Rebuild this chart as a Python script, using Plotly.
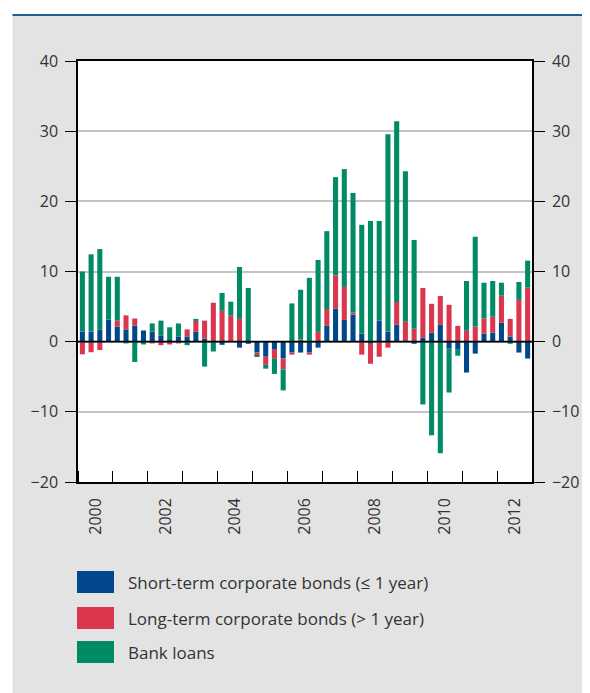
import plotly.graph_objects as go

# Quarterly flows, 2000 Q1 - 2012 Q4
years = list(range(2000, 2013))
quarters = [f"{y}Q{q}" for y in years for q in range(1, 5)]

short_term = [
    1.45, 1.45, 1.75, 3.15, 2.15, 1.75, 2.3, 1.6, 1.45, 0.9, 0.35, 0.75,
    0.75, 1.4, 0.45, 0.0, -0.45, 0.0, -0.85, -0.3, -1.55, -2.15, -1.15, -2.4,
    -1.55, -1.55, -1.55, -0.85, 2.25, 4.7, 3.1, 3.85, 1.15, -0.3, 3.0, 1.4,
    2.4, 0.0, -0.3, 0.55, 1.3, 2.4, -1.0, -1.15, -4.4, -1.7, 1.15, 1.3,
    2.7, 0.7, -1.55, -2.4,
]
long_term = [
    -1.8, -1.5, -1.2, 0.0, 0.85, 2.0, 1.0, 0.0, -0.25, -0.5, -0.4, -0.25,
    1.0, 1.55, 2.55, 5.55, 4.4, 3.7, 3.25, 0.15, -0.45, -1.15, -1.3, -1.55,
    -0.3, 0.3, -0.3, 1.4, 2.4, 4.75, 4.7, 0.3, -1.85, -2.85, -2.15, -0.85,
    3.25, 2.85, 1.85, 7.1, 4.1, 4.1, 5.25, 2.25, 1.55, 2.15, 2.15, 2.25,
    3.85, 2.55, 5.95, 7.7,
]
bank_loans = [
    8.55, 11.0, 11.45, 6.1, 6.25, -0.25, -2.9, -0.4, 1.15, 2.1, 1.7, 1.85,
    -0.5, 0.3, -3.55, -1.4, 2.55, 2.0, 7.4, 7.5, -0.15, -0.55, -2.15, -3.0,
    5.45, 7.1, 9.1, 10.25, 11.1, 14.0, 16.8, 17.05, 15.5, 17.2, 14.2, 28.15,
    25.75, 21.45, 12.65, -8.95, -13.35, -15.9, -6.25, -0.85, 7.1, 12.8, 5.1, 5.1,
    1.85, -0.3, 2.55, 3.85,
]

series_names = [
    "Short-term corporate bonds (≤ 1 year)",
    "Long-term corporate bonds (> 1 year)",
    "Bank loans",
]
colors = ["#00478B", "#DA364D", "#008B66"]

y_ticks = [-20, -10, 0, 10, 20, 30, 40]
year_labels = [str(y) for y in range(2000, 2013, 2)]

FONT = "Open Sans"
TEXT = "#333333"
OFF = 8  # page body margin: figure starts 8px in from the window edge
W, H = 590 - OFF, 693 - OFF
L, R, T, B = 78 - OFF, 532 - OFF, 61 - OFF, 482 - OFF  # plot area in figure px


def px_x(px):
    # page pixel -> paper x
    return (px - OFF - L) / (R - L)


def px_y(py):
    # page pixel -> paper y
    return (B - (py - OFF)) / (B - T)


# decimal-year position of each quarter (mid-quarter)
x = [int(q[:4]) + (int(q[-1]) - 0.5) / 4 for q in quarters]

fig = go.Figure()
for name, vals, col in zip(series_names, [short_term, long_term, bank_loans], colors):
    fig.add_trace(go.Bar(
        x=x, y=vals, name=name,
        marker=dict(color=col, line=dict(width=0)),
        showlegend=False,
    ))

# dummy trace so the right-hand axis is drawn
fig.add_trace(go.Scatter(x=[None], y=[None], yaxis="y2", showlegend=False, hoverinfo="skip"))

shapes = [
    # white margins outside the grey panel
    dict(type="rect", xref="paper", yref="paper", x0=px_x(-5), x1=px_x(12.5),
         y0=px_y(700), y1=px_y(-5), fillcolor="white", line=dict(width=0), layer="below"),
    dict(type="rect", xref="paper", yref="paper", x0=px_x(-5), x1=px_x(600),
         y0=px_y(15), y1=px_y(-5), fillcolor="white", line=dict(width=0), layer="below"),
    # blue rule on top
    dict(type="line", xref="paper", yref="paper", x0=px_x(12.5), x1=px_x(600),
         y0=px_y(15), y1=px_y(15), line=dict(color="#1F5C9B", width=2)),
    # zero line above the bars
    dict(type="line", xref="paper", yref="y", x0=0, x1=1, y0=0, y1=0,
         line=dict(color="black", width=1.6), layer="above"),
]

annotations = []
legend_rows = [582, 618, 652]
for name, col, cy in zip(series_names, colors, legend_rows):
    shapes.append(dict(
        type="rect", xref="paper", yref="paper",
        x0=px_x(77), x1=px_x(114), y0=px_y(cy + 11), y1=px_y(cy - 11),
        fillcolor=col, line=dict(width=0),
    ))
    annotations.append(dict(
        text=name, xref="paper", yref="paper", x=px_x(126), y=px_y(cy),
        xanchor="left", yanchor="middle", showarrow=False,
        font=dict(family=FONT, size=17, color=TEXT),
    ))

axis_font = dict(family=FONT, size=16, color=TEXT)

fig.update_layout(
    width=W, height=H,
    margin=dict(l=L, r=W - R, t=T, b=H - B, pad=0),
    paper_bgcolor="#E3E3E3",
    plot_bgcolor="white",
    barmode="relative",
    bargap=0.42,
    showlegend=False,
    shapes=shapes,
    annotations=annotations,
    xaxis=dict(
        range=[2000, 2013],
        tickmode="array",
        tickvals=[int(t) + 0.5 for t in year_labels],
        ticktext=year_labels,
        tickangle=-90,
        ticks="",
        tickfont=axis_font,
        showgrid=False,
        zeroline=False,
        showline=True, linecolor="black", linewidth=1.5, mirror=True,
        minor=dict(tickmode="linear", tick0=2000, dtick=1, ticks="inside",
                   ticklen=11, tickcolor="black", tickwidth=1.2, showgrid=False),
        ticklabelstandoff=8,
    ),
    yaxis=dict(
        range=[-20, 40],
        tickvals=y_ticks,
        ticks="outside", ticklen=11, tickcolor="black", tickwidth=1.2,
        tickfont=axis_font,
        showgrid=True, gridcolor="#C4C4C4", gridwidth=2,
        zeroline=False,
        showline=True, linecolor="black", linewidth=1.5,
        ticklabelstandoff=4,
    ),
    yaxis2=dict(
        range=[-20, 40],
        overlaying="y", side="right",
        tickvals=y_ticks,
        ticks="outside", ticklen=11, tickcolor="black", tickwidth=1.2,
        tickfont=axis_font,
        showgrid=False, zeroline=False,
        showline=True, linecolor="black", linewidth=1.5,
        ticklabelstandoff=4,
    ),
)

fig.write_html("out.html")
